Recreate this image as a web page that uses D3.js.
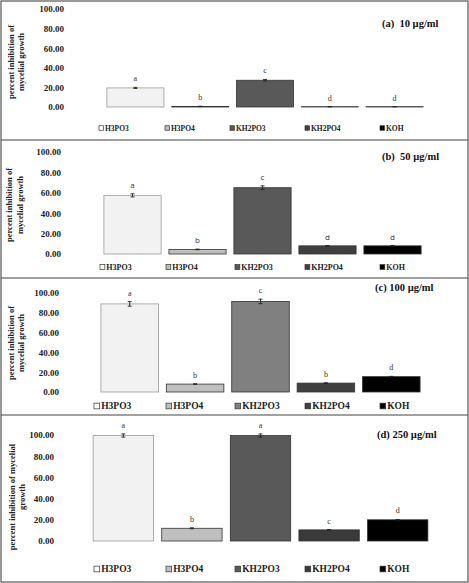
<!DOCTYPE html>
<html>
<head>
<meta charset="utf-8">
<script src="https://cdn.jsdelivr.net/npm/d3@7"></script>
<style>
body { margin: 0; background: #fff; }
svg { display: block; }
.tick text { font-family: "Liberation Serif", "DejaVu Serif", serif; font-weight: bold; fill: #222; }
</style>
</head>
<body>
<div id="chart"></div>
<script>
// chemicals (same in every panel)
const categories = ['H3PO3', 'H3PO4', 'KH2PO3', 'KH2PO4', 'KOH'];
const yTicks = [0, 20, 40, 60, 80, 100];

// percent inhibition of mycelial growth, per concentration
const values10 = [19.5, 0.6, 27.3, 0.3, 0.3];
const errors10 = [0.6, 0.2, 0.8, 0.1, 0.1];
const letters10 = ['a', 'b', 'c', 'd', 'd'];

const values50 = [57.5, 4.5, 65.0, 8.0, 8.0];
const errors50 = [1.5, 0.3, 1.8, 0.3, 0.3];
const letters50 = ['a', 'b', 'c', 'd', 'd'];

const values100 = [89.0, 8.0, 91.5, 9.0, 15.5];
const errors100 = [2.3, 0.3, 2.3, 0.3, 0.3];
const letters100 = ['a', 'b', 'c', 'b', 'd'];

const values250 = [99.5, 12.0, 99.5, 10.5, 20.0];
const errors250 = [1.5, 0.4, 1.5, 0.3, 0.3];
const letters250 = ['a', 'b', 'a', 'c', 'd'];

const titles = ['(a)  10 \u00b5g/ml', '(b)  50 \u00b5g/ml', '(c) 100 \u00b5g/ml', '(d) 250 \u00b5g/ml'];
const yTitles = [
  ['percent inhibition of', 'mycelial growth'],
  ['percent inhibition of', 'mycelial growth'],
  ['percent inhibition of', 'mycelial growth'],
  ['percent inhibition of mycelial', 'growth']
];

const W = 469, H = 583;
const serif = '"Liberation Serif", "DejaVu Serif", serif';

// per-panel layout (pixel geometry of the original figure)
const panels = [
  { values: values10, errors: errors10, letters: letters10, top: 0, bottom: 140, y100: 9, y0: 107,
    x: [103, 427], axisX: 64, titleX: [11, 21], titleY: 62, titleSize: 8.5, legendY: 128, legendSize: 7.5,
    legendX: [99, 165, 230, 305, 380], headX: 382, headY: 27, letterFont: serif,
    colors: ['#f2f2f2', '#bfbfbf', '#595959', '#404040', '#000'] },
  { values: values50, errors: errors50, letters: letters50, top: 140, bottom: 278, y100: 152, y0: 254,
    x: [100, 425], axisX: 61, titleX: [9, 20], titleY: 205, titleSize: 8.5, legendY: 267, legendSize: 8,
    legendX: [100, 166, 235, 305, 380], headX: 382, headY: 160, letterFont: '"Open Sans", sans-serif',
    colors: ['#f2f2f2', '#bfbfbf', '#595959', '#404040', '#000'] },
  { values: values100, errors: errors100, letters: letters100, top: 278, bottom: 415, y100: 293, y0: 392,
    x: [97, 424], axisX: 59, titleX: [11, 21], titleY: 343, titleSize: 8.5, legendY: 406, legendSize: 9.5,
    legendX: [94, 166, 235, 305, 380], headX: 375, headY: 291, letterFont: serif,
    colors: ['#f2f2f2', '#bfbfbf', '#808080', '#404040', '#000'] },
  { values: values250, errors: errors250, letters: letters250, top: 415, bottom: 582, y100: 435, y0: 541,
    x: [89, 432], axisX: 54, titleX: [12, 22], titleY: 497, titleSize: 8.5, legendY: 569, legendSize: 9.5,
    legendX: [94, 166, 235, 305, 380], headX: 377, headY: 438, letterFont: serif,
    colors: ['#f2f2f2', '#bfbfbf', '#595959', '#3a3a3a', '#000'] }
];

const svg = d3.select('#chart').append('svg')
  .attr('width', W)
  .attr('height', H);

svg.append('rect')
  .attr('width', W).attr('height', H)
  .attr('fill', '#fff');

panels.forEach((p, i) => {
  const g = svg.append('g');

  const x = d3.scaleBand()
    .domain(categories)
    .range(p.x)
    .paddingInner(0.12)
    .paddingOuter(0.06);

  const y = d3.scaleLinear()
    .domain([0, 100])
    .range([p.y0, p.y100]);

  // y axis, labels only
  const ax = g.append('g')
    .attr('transform', `translate(${p.axisX},0)`)
    .call(d3.axisLeft(y).tickValues(yTicks).tickFormat(d3.format('.2f')).tickSize(0).tickPadding(0));
  ax.select('.domain').remove();
  ax.selectAll('text').style('font-size', '9px');

  // y title
  const tt = g.append('text')
    .attr('transform', `translate(0,${p.titleY}) rotate(-90)`)
    .attr('text-anchor', 'middle')
    .style('font-family', serif)
    .style('font-weight', 'bold')
    .style('font-size', p.titleSize + 'px')
    .attr('fill', '#222');
  yTitles[i].forEach((line, k) => {
    tt.append('tspan').attr('x', 0).attr('y', p.titleX[k] + 3).text(line);
  });

  // bars
  g.selectAll('rect.bar')
    .data(categories)
    .join('rect')
    .attr('class', 'bar')
    .attr('x', d => x(d))
    .attr('width', x.bandwidth())
    .attr('y', (d, j) => y(p.values[j]))
    .attr('height', (d, j) => y(0) - y(p.values[j]))
    .attr('fill', (d, j) => p.colors[j])
    .attr('stroke', (d, j) => j === 0 ? '#9a9a9a' : '#333')
    .attr('stroke-width', 0.8);

  // error bars
  const eb = g.selectAll('g.err')
    .data(categories)
    .join('g')
    .attr('class', 'err')
    .attr('transform', d => `translate(${x(d) + x.bandwidth() / 2},0)`);
  eb.append('line')
    .attr('y1', (d, j) => y(p.values[j] - p.errors[j]))
    .attr('y2', (d, j) => y(p.values[j] + p.errors[j]))
    .attr('stroke', '#222').attr('stroke-width', 0.9);
  eb.append('line').attr('x1', -2).attr('x2', 2)
    .attr('y1', (d, j) => y(p.values[j] - p.errors[j]))
    .attr('y2', (d, j) => y(p.values[j] - p.errors[j]))
    .attr('stroke', '#222').attr('stroke-width', 0.9);
  eb.append('line').attr('x1', -2).attr('x2', 2)
    .attr('y1', (d, j) => y(p.values[j] + p.errors[j]))
    .attr('y2', (d, j) => y(p.values[j] + p.errors[j]))
    .attr('stroke', '#222').attr('stroke-width', 0.9);

  // significance letters
  eb.append('text')
    .attr('y', (d, j) => y(p.values[j] + p.errors[j]) - 6)
    .attr('text-anchor', 'middle')
    .style('font-family', p.letterFont)
    .style('font-size', '8px')
    .attr('fill', '#333')
    .text((d, j) => p.letters[j]);

  // panel heading
  g.append('text')
    .attr('x', p.headX)
    .attr('y', p.headY)
    .style('font-family', serif)
    .style('font-weight', 'bold')
    .style('font-size', '10.5px')
    .attr('fill', '#111')
    .attr('xml:space', 'preserve')
    .text(titles[i]);

  // legend
  const lg = g.selectAll('g.leg')
    .data(categories)
    .join('g')
    .attr('class', 'leg')
    .attr('transform', (d, j) => `translate(${p.legendX[j]},${p.legendY})`);
  const s = p.legendSize * 0.6;
  lg.append('rect')
    .attr('x', 0).attr('y', -s / 2)
    .attr('width', s).attr('height', s)
    .attr('fill', (d, j) => j === 0 ? '#fff' : p.colors[j])
    .attr('stroke', '#333').attr('stroke-width', 0.7);
  lg.append('text')
    .attr('x', s + 1.5)
    .attr('y', p.legendSize * 0.35)
    .style('font-family', serif)
    .style('font-weight', 'bold')
    .style('font-size', p.legendSize + 'px')
    .attr('fill', '#222')
    .text(d => d);

  // separator under panel
  if (i < panels.length - 1) {
    g.append('line')
      .attr('x1', 1).attr('x2', W - 1)
      .attr('y1', p.bottom).attr('y2', p.bottom)
      .attr('stroke', '#444').attr('stroke-width', 1.2);
  }
});

// outer frame
svg.append('rect')
  .attr('x', 1).attr('y', 1)
  .attr('width', W - 2).attr('height', H - 2)
  .attr('fill', 'none')
  .attr('stroke', '#555')
  .attr('stroke-width', 1.2);
</script>
</body>
</html>
